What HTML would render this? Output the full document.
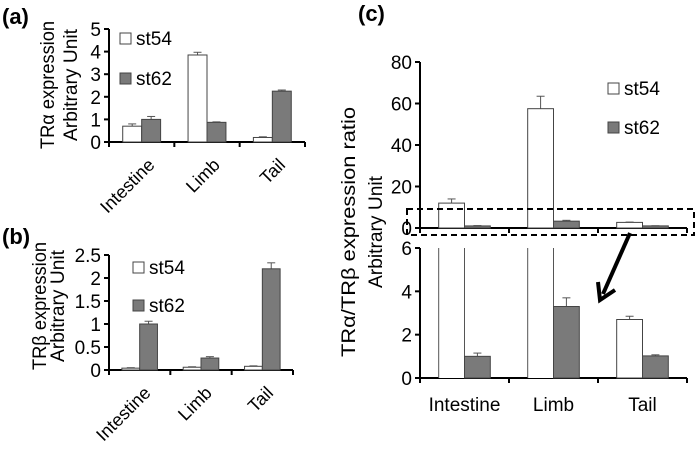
<!DOCTYPE html>
<html><head><meta charset="utf-8"><style>
body{margin:0;background:#fff;}
svg text{font-family:"Liberation Sans","DejaVu Sans",sans-serif;}
</style></head><body>
<svg id="fig" width="697" height="447" viewBox="0 0 697 447" xmlns="http://www.w3.org/2000/svg"></svg>
<script>
const categories=["Intestine","Limb","Tail"];
const aSt54=[0.7,3.85,0.2];
const aSt62=[1.0,0.87,2.25];
const aErr54=[0.1,0.12,0.03];
const aErr62=[0.13,0.02,0.05];
const aTicks=[0,1,2,3,4,5];
const bSt54=[0.04,0.06,0.08];
const bSt62=[1.0,0.26,2.2];
const bErr54=[0.01,0.01,0.01];
const bErr62=[0.06,0.03,0.13];
const bTicks=["0","0.5","1","1.5","2","2.5"];
const cSt54=[12,57.5,2.7];
const cSt62=[1.0,3.3,1.02];
const cErr54=[2,6,0.15];
const cErr62=[0.15,0.4,0.05];
const cTopTicks=[0,20,40,60,80];
const cBotTicks=[0,2,4,6];

const svg=document.getElementById('fig');
const NS='http://www.w3.org/2000/svg';
function mk(tag,attrs,name,parent){
  const e=document.createElementNS(NS,tag);
  for(const k in attrs)e.setAttribute(k,attrs[k]);
  
  
  (parent||svg).appendChild(e);return e;
}
function txt(x,y,s,attrs,name,parent){const t=mk('text',Object.assign({x:x,y:y,'font-size':19},attrs||{}),name,parent);t.textContent=s;return t;}

function panel(o){
  const g=mk('g',{},o.id);
  const y=v=>o.y0-(v-o.min)*(o.y0-o.yTop)/(o.max-o.min);
  const bw=(o.x1-o.x0)/3;
  mk('line',{x1:o.x0,y1:o.yTop,x2:o.x0,y2:o.y0,stroke:'#000','stroke-width':2},'y-axis',g);
  mk('line',{x1:o.x0,y1:o.y0,x2:o.x1,y2:o.y0,stroke:'#000','stroke-width':2},'x-axis',g);
  for(let i=0;i<=3;i++)mk('line',{x1:o.x0+i*bw,y1:o.y0,x2:o.x0+i*bw,y2:o.y0+5,stroke:'#000','stroke-width':2},'x-tick',g);
  o.ticks.forEach(t=>{
    const v=parseFloat(t);
    mk('line',{x1:o.x0-5,y1:y(v),x2:o.x0,y2:y(v),stroke:'#000','stroke-width':2},'y-tick',g);
    txt(o.x0-8,y(v)+7,String(t),{'text-anchor':'end'},'y-tick-label',g);
  });
  const barW=bw*0.29;
  categories.forEach((c,i)=>{
    const cx=o.x0+bw*(i+0.5);
    [[o.s54,o.e54,'#fff','st54'],[o.s62,o.e62,'#7a7a7a','st62']].forEach((s,k)=>{
      const v=s[0][i];
      const bx=k===0?cx-barW:cx;
      const clipped=v>o.max;
      const top=clipped?o.yTop:y(v);
      if(clipped){
        mk('rect',{x:bx,y:top,width:barW,height:o.y0-top,fill:s[2],stroke:'none'},'bar-'+s[3]+'-'+c.toLowerCase(),g);
        mk('line',{x1:bx,y1:top,x2:bx,y2:o.y0,stroke:'#555','stroke-width':1},'bar-edge',g);
        mk('line',{x1:bx+barW,y1:top,x2:bx+barW,y2:o.y0,stroke:'#555','stroke-width':1},'bar-edge',g);
      } else {
        const ey=y(v+s[1][i]);
        mk('line',{x1:bx+barW/2,y1:top,x2:bx+barW/2,y2:ey,stroke:'#555','stroke-width':1},'error-bar',g);
        mk('line',{x1:bx+barW/2-4,y1:ey,x2:bx+barW/2+4,y2:ey,stroke:'#555','stroke-width':1},'error-cap',g);
        mk('rect',{x:bx,y:top,width:barW,height:o.y0-top,fill:s[2],stroke:'#444','stroke-width':1},'bar-'+s[3]+'-'+c.toLowerCase(),g);
      }
    });
    if(o.rot){
      const ax=cx+o.rotDx, ay=o.y0+o.rotDy;
      txt(ax,ay,c,{'text-anchor':'end','font-size':18,transform:`rotate(-45 ${ax} ${ay})`},'category-label',g);
    } else if(o.catY){
      txt(cx,o.catY,c,{'text-anchor':'middle','font-size':19},'category-label',g);
    }
  });
  if(o.legend){
    const L=o.legend;
    mk('rect',{x:L.x,y:L.y,width:11,height:11,fill:'#fff',stroke:'#444'},'legend-swatch-st54',g);
    txt(L.x+16,L.y+12,'st54',{},'legend-label-st54',g);
    mk('rect',{x:L.x,y:L.y+L.gap,width:11,height:11,fill:'#7a7a7a',stroke:'#444'},'legend-swatch-st62',g);
    txt(L.x+16,L.y+L.gap+12,'st62',{},'legend-label-st62',g);
  }
  return g;
}

// panel a
txt(2,24,'(a)',{'font-size':22,'font-weight':'bold'},'panel-label-a');
panel({id:'chart-a',x0:109,x1:305,y0:142,yTop:29,min:0,max:5,ticks:aTicks,s54:aSt54,s62:aSt62,e54:aErr54,e62:aErr62,rot:true,rotDx:14,rotDy:24,legend:{x:120,y:33,gap:40}});
txt(0,0,'TRα expression',{'text-anchor':'middle',textLength:128,lengthAdjust:'spacingAndGlyphs',transform:'translate(54,85) rotate(-90)'},'y-axis-title-a');
txt(0,0,'Arbitrary Unit',{'text-anchor':'middle',textLength:112,lengthAdjust:'spacingAndGlyphs',transform:'translate(77,85) rotate(-90)'},'y-axis-title-a-unit');
// panel b
txt(2,244,'(b)',{'font-size':22,'font-weight':'bold'},'panel-label-b');
panel({id:'chart-b',x0:109,x1:293,y0:370,yTop:255,min:0,max:2.5,ticks:bTicks,s54:bSt54,s62:bSt62,e54:bErr54,e62:bErr62,rot:true,rotDx:12,rotDy:24,legend:{x:133,y:262,gap:38}});
txt(0,0,'TRβ expression',{'text-anchor':'middle',textLength:128,lengthAdjust:'spacingAndGlyphs',transform:'translate(46,306) rotate(-90)'},'y-axis-title-b');
txt(0,0,'Arbitrary Unit',{'text-anchor':'middle',textLength:112,lengthAdjust:'spacingAndGlyphs',transform:'translate(64,306) rotate(-90)'},'y-axis-title-b-unit');
// panel c
txt(358,21,'(c)',{'font-size':22,'font-weight':'bold'},'panel-label-c');
panel({id:'chart-c-top',x0:420,x1:687,y0:228,yTop:62,min:0,max:80,ticks:cTopTicks,s54:cSt54,s62:cSt62,e54:cErr54,e62:cErr62,legend:{x:608,y:83,gap:39}});
panel({id:'chart-c-bottom',x0:420,x1:687,y0:378,yTop:248,min:0,max:6,ticks:cBotTicks,s54:cSt54,s62:cSt62,e54:cErr54,e62:cErr62,catY:411});
txt(0,0,'TRα/TRβ expression ratio',{'text-anchor':'middle',textLength:250,lengthAdjust:'spacingAndGlyphs',transform:'translate(355,232) rotate(-90)'},'y-axis-title-c');
txt(0,0,'Arbitrary Unit',{'text-anchor':'middle',textLength:112,lengthAdjust:'spacingAndGlyphs',transform:'translate(382,232) rotate(-90)'},'y-axis-title-c-unit');
mk('rect',{x:407,y:209,width:287,height:26,fill:'none',stroke:'#000','stroke-width':2,'stroke-dasharray':'6,4'},'zoom-box');
mk('line',{x1:630,y1:233,x2:603,y2:294,stroke:'#000','stroke-width':4},'zoom-arrow');
mk('polyline',{points:'598,282 600,300 615,290',fill:'none',stroke:'#000','stroke-width':4},'zoom-arrow-head');
</script>
</body></html>
